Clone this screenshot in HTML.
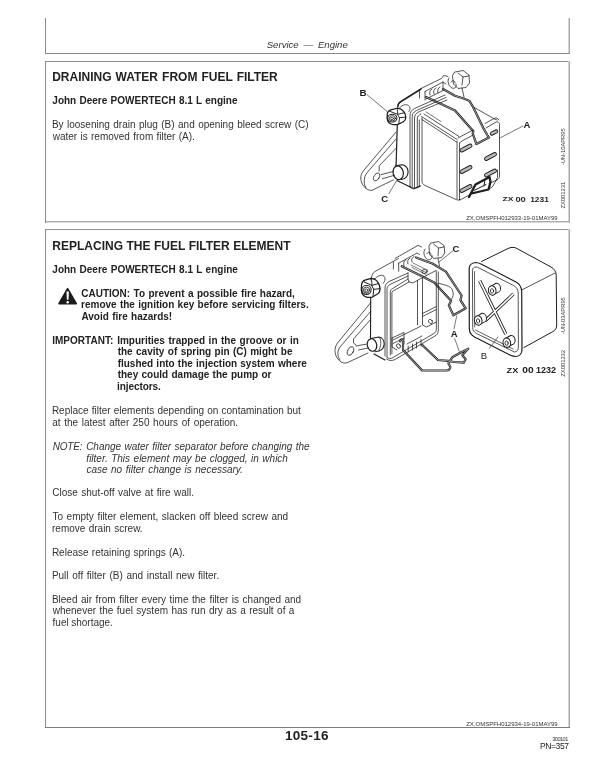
<!DOCTYPE html>
<html><head><meta charset="utf-8"><style>
html,body{margin:0;padding:0;background:#fff;}
body{width:600px;height:776px;position:relative;overflow:hidden;filter:blur(0.35px);font-family:"Liberation Sans",sans-serif;}
.t{position:absolute;white-space:nowrap;}
.b{display:inline-block;width:0;height:0;vertical-align:baseline;}
.h{position:absolute;background:#6a6a6a;}
svg{position:absolute;left:0;top:0;}
</style></head><body>
<div class="h" style="left:45px;top:18px;width:1px;height:36px;background:#8a8a8a"></div>
<div class="h" style="left:568px;top:18px;width:1px;height:36px;background:#d4d4d4"></div>
<div class="h" style="left:569px;top:18px;width:1px;height:36px;background:#a8a8a8"></div>
<div class="h" style="left:45px;top:53px;width:525px;height:1px;background:#8a8a8a"></div>
<div class="h" style="left:46px;top:61px;width:523px;height:1px;background:#8e8e8e"></div>
<div class="h" style="left:45px;top:61px;width:1px;height:162px;background:#8a8a8a"></div>
<div class="h" style="left:568px;top:61px;width:1px;height:162px;background:#d4d4d4"></div>
<div class="h" style="left:569px;top:61px;width:1px;height:162px;background:#a8a8a8"></div>
<div class="h" style="left:46px;top:221px;width:523px;height:1px;background:#acacac"></div>
<div class="h" style="left:46px;top:222px;width:523px;height:1px;background:#dadada"></div>
<div class="h" style="left:46px;top:229px;width:523px;height:1px;background:#929292"></div>
<div class="h" style="left:45px;top:229px;width:1px;height:499px;background:#8a8a8a"></div>
<div class="h" style="left:568px;top:229px;width:1px;height:499px;background:#d4d4d4"></div>
<div class="h" style="left:569px;top:229px;width:1px;height:499px;background:#a8a8a8"></div>
<div class="h" style="left:45px;top:727px;width:525px;height:1px;background:#7c7c7c"></div>
<div class="t" style="left:266.73px;top:40.12px;font-size:9.60px;line-height:9.60px;font-style:italic;word-spacing:2.14px;color:#333">Service — Engine<span class="b"></span></div>
<div class="t" style="left:52.21px;top:71.10px;font-size:12.00px;line-height:12.00px;font-weight:bold;word-spacing:0.72px;color:#222">DRAINING WATER FROM FUEL FILTER<span class="b"></span></div>
<div class="t" style="left:52.35px;top:96.11px;font-size:10.00px;line-height:10.00px;font-weight:bold;word-spacing:0.51px;color:#222">John Deere POWERTECH 8.1 L engine<span class="b"></span></div>
<div class="t" style="left:51.88px;top:120.11px;font-size:10.00px;line-height:10.00px;word-spacing:0.66px;color:#333">By loosening drain plug (B) and opening bleed screw (C)<span class="b"></span></div>
<div class="t" style="left:52.70px;top:132.12px;font-size:10.00px;line-height:10.00px;word-spacing:0.54px;color:#333">water is removed from filter (A).<span class="b"></span></div>
<div class="t" style="left:52.31px;top:240.11px;font-size:12.00px;line-height:12.00px;font-weight:bold;word-spacing:0.19px;color:#222">REPLACING THE FUEL FILTER ELEMENT<span class="b"></span></div>
<div class="t" style="left:52.35px;top:265.12px;font-size:10.00px;line-height:10.00px;font-weight:bold;word-spacing:0.57px;color:#222">John Deere POWERTECH 8.1 L engine<span class="b"></span></div>
<div class="t" style="left:81.29px;top:289.11px;font-size:10.00px;line-height:10.00px;font-weight:bold;word-spacing:0.62px;color:#222">CAUTION: To prevent a possible fire hazard,<span class="b"></span></div>
<div class="t" style="left:81.05px;top:300.11px;font-size:10.00px;line-height:10.00px;font-weight:bold;word-spacing:0.52px;color:#222">remove the ignition key before servicing filters.<span class="b"></span></div>
<div class="t" style="left:81.46px;top:312.12px;font-size:10.00px;line-height:10.00px;font-weight:bold;word-spacing:0.52px;color:#222">Avoid fire hazards!<span class="b"></span></div>
<div class="t" style="left:52.14px;top:336.11px;font-size:10.00px;line-height:10.00px;font-weight:bold;letter-spacing:0.033px;color:#222">IMPORTANT:<span class="b"></span></div>
<div class="t" style="left:117.14px;top:336.11px;font-size:10.00px;line-height:10.00px;font-weight:bold;word-spacing:0.74px;color:#222">Impurities trapped in the groove or in<span class="b"></span></div>
<div class="t" style="left:117.68px;top:347.11px;font-size:10.00px;line-height:10.00px;font-weight:bold;word-spacing:0.61px;color:#222">the cavity of spring pin (C) might be<span class="b"></span></div>
<div class="t" style="left:117.63px;top:359.12px;font-size:10.00px;line-height:10.00px;font-weight:bold;word-spacing:0.39px;color:#222">flushed into the injection system where<span class="b"></span></div>
<div class="t" style="left:117.68px;top:370.12px;font-size:10.00px;line-height:10.00px;font-weight:bold;word-spacing:0.53px;color:#222">they could damage the pump or<span class="b"></span></div>
<div class="t" style="left:117.11px;top:382.11px;font-size:10.00px;line-height:10.00px;font-weight:bold;letter-spacing:-0.098px;color:#222">injectors.<span class="b"></span></div>
<div class="t" style="left:51.88px;top:406.11px;font-size:10.00px;line-height:10.00px;word-spacing:0.36px;color:#333">Replace filter elements depending on contamination but<span class="b"></span></div>
<div class="t" style="left:52.28px;top:418.11px;font-size:10.00px;line-height:10.00px;word-spacing:0.82px;color:#333">at the latest after 250 hours of operation.<span class="b"></span></div>
<div class="t" style="left:52.70px;top:442.11px;font-size:10.00px;line-height:10.00px;font-style:italic;letter-spacing:-0.215px;color:#333">NOTE:<span class="b"></span></div>
<div class="t" style="left:86.15px;top:442.11px;font-size:10.00px;line-height:10.00px;font-style:italic;word-spacing:0.55px;color:#333">Change water filter separator before changing the<span class="b"></span></div>
<div class="t" style="left:86.37px;top:454.12px;font-size:10.00px;line-height:10.00px;font-style:italic;word-spacing:0.74px;color:#333">filter. This element may be clogged, in which<span class="b"></span></div>
<div class="t" style="left:86.38px;top:465.12px;font-size:10.00px;line-height:10.00px;font-style:italic;word-spacing:0.77px;color:#333">case no filter change is necessary.<span class="b"></span></div>
<div class="t" style="left:52.20px;top:488.11px;font-size:10.00px;line-height:10.00px;word-spacing:0.74px;color:#333">Close shut-off valve at fire wall.<span class="b"></span></div>
<div class="t" style="left:52.48px;top:512.11px;font-size:10.00px;line-height:10.00px;word-spacing:0.79px;color:#333">To empty filter element, slacken off bleed screw and<span class="b"></span></div>
<div class="t" style="left:52.04px;top:524.11px;font-size:10.00px;line-height:10.00px;word-spacing:0.54px;color:#333">remove drain screw.<span class="b"></span></div>
<div class="t" style="left:51.88px;top:548.11px;font-size:10.00px;line-height:10.00px;word-spacing:0.50px;color:#333">Release retaining springs (A).<span class="b"></span></div>
<div class="t" style="left:51.88px;top:571.12px;font-size:10.00px;line-height:10.00px;word-spacing:0.90px;color:#333">Pull off filter (B) and install new filter.<span class="b"></span></div>
<div class="t" style="left:51.88px;top:595.11px;font-size:10.00px;line-height:10.00px;word-spacing:0.75px;color:#333">Bleed air from filter every time the filter is changed and<span class="b"></span></div>
<div class="t" style="left:52.70px;top:606.12px;font-size:10.00px;line-height:10.00px;word-spacing:0.65px;color:#333">whenever the fuel system has run dry as a result of a<span class="b"></span></div>
<div class="t" style="left:52.56px;top:618.11px;font-size:10.00px;line-height:10.00px;word-spacing:-0.25px;color:#333">fuel shortage.<span class="b"></span></div>
<div class="t" style="left:466.21px;top:215.11px;font-size:6.00px;line-height:6.00px;letter-spacing:-0.005px;color:#333">ZX,OMSPFH012933-19-01MAY99<span class="b"></span></div>
<div class="t" style="left:466.21px;top:721.11px;font-size:6.00px;line-height:6.00px;letter-spacing:-0.005px;color:#333">ZX,OMSPFH012934-19-01MAY99<span class="b"></span></div>
<div class="t" style="left:284.96px;top:729.11px;font-size:13.50px;line-height:13.50px;font-weight:bold;letter-spacing:0.294px;color:#222">105-16<span class="b"></span></div>
<div class="t" style="left:552.29px;top:737.10px;font-size:5.60px;line-height:5.60px;letter-spacing:-0.541px;color:#3a3a3a">300101<span class="b"></span></div>
<div class="t" style="left:539.90px;top:742.12px;font-size:8.50px;line-height:8.50px;letter-spacing:-0.365px;color:#222">PN=357<span class="b"></span></div>
<svg width="600" height="776" viewBox="0 0 600 776">
<path d="M67.6,288.6 L76.3,303.6 L59,303.6 Z" fill="#1c1c1c" stroke="#1c1c1c" stroke-width="1.6" stroke-linejoin="round"/>
<path d="M66.5,291.5 L68.9,291.5 L68.5,299.8 L66.9,299.8 Z" fill="#fff"/>
<circle cx="67.7" cy="302.2" r="1.2" fill="#fff"/>
<g fill="none" stroke="#1e1e1e" stroke-width="0.75" stroke-linecap="round" stroke-linejoin="round">
<!-- bracket top edge (thick) -->
<path d="M397.7,107 C398,104 399,102.5 401,101.5 L421,89" stroke-width="1.5"/>
<!-- I mark -->
<path d="M419.5,89.5 L419.5,98"/>
<!-- top block -->
<path d="M421,88.5 L441.5,78.5 L443.5,75.5 L448,76.5"/>
<path d="M425,91.5 L443,82 L446,84"/>
<path d="M425,91.5 L425,100"/>
<path d="M443,82 L443,90"/>
<path d="M430,95 C429,92 430,90 432,89 M434,94 C433,91 434,89 436,88 M438,93 C437,90 438,88 440,87"/>
<path d="M426,99 L444,90"/>
<!-- top nut -->
<path d="M455,72 L463,70.5 L469,75 L469.5,83 L466,87.5 L458,88.5 L453.5,84 L452.5,76 Z"/>
<path d="M458,73 L463,77 L469,76 M463,77 L462,85"/>
<path d="M449,78 C447,80 448,86 452,88 C455,89 457,87 456,84"/>
<path d="M451,82 C452,80 455,80 455,83"/>
<path d="M462,88 L464,97"/>
<!-- wires -->
<path d="M443,89 L455,95.7 L463.5,98.5 L469.2,100.7 L472.7,106.3 L483.4,128.3 L488.3,136.8 L489,137.6 L476.3,143.9 L472.7,133.3 L473.4,131.2 L455,110.6 L440,103.5 L426,97" stroke-width="2.2"/>
<path d="M443,89 L455,95.7 L463.5,98.5 L469.2,100.7 L472.7,106.3 L483.4,128.3 L488.3,136.8 L489,137.6 L476.3,143.9 L472.7,133.3 L473.4,131.2 L455,110.6 L440,103.5 L426,97" stroke-width="0.55" stroke="#fff"/>
<path d="M474.1,107.4 L494.7,119.1 L497,120"/>
<!-- frame lines vertical -->
<path d="M410,186 L410,116 C410,112 411.5,110 414.5,108.5 L445,95"/>
<path d="M412.2,187 L412.2,117 C412.2,114 413.5,112 416.5,110.5 L446,97.5"/>
<path d="M414.5,188 L414.5,118 C414.5,115 416,113.5 418.5,112 L447,100"/>
<path d="M417.3,187 L417.3,119 C417.3,116.5 418.5,115 421,114"/>
<path d="M419.3,186 L419.3,120"/>
<path d="M410,186 C410.5,188 412,189 414,189 L420,186.5"/>
<!-- bowl front face -->
<path d="M422,118 L422,181 C422,183 423,184.5 425,185.5 L455,199 C457,200 458,200.5 460,199.5"/>
<path d="M421.5,116.5 L457,139.5"/>
<path d="M422,119.5 L456.5,142"/>
<path d="M424,114 L459,136.5"/>
<path d="M426,112 L441,121.5" stroke-width="0.6"/>
<path d="M457,141 L457,199"/>
<path d="M459.5,143 L459.5,200"/>
<!-- right face -->
<path d="M459.5,143 L462,141 L473,135 M486,128 L496,122 C498,121.5 499.5,122.5 499.5,124.5 L499.5,176 C499.5,178 498.5,179 497,180"/>
<path d="M458,138 L473,130 M485,123.5 L494,118.5 C496,117.5 498,118 499,120"/>
<path d="M460,200 L472,193.5"/>
<path d="M489,183.5 L497,180"/>
<!-- slots -->
<g stroke-width="0.9" fill="#b8b8b8">
<rect x="-6.5" y="-1.8" width="13" height="3.6" rx="1.8" transform="translate(466,148) rotate(-27)"/>
<rect x="-6.5" y="-1.8" width="13" height="3.6" rx="1.8" transform="translate(490.5,156.5) rotate(-27)"/>
<rect x="-6.5" y="-1.8" width="13" height="3.6" rx="1.8" transform="translate(466,169.5) rotate(-27)"/>
<rect x="-6.5" y="-1.8" width="13" height="3.6" rx="1.8" transform="translate(490.5,173) rotate(-27)"/>
<rect x="-6.5" y="-1.8" width="13" height="3.6" rx="1.8" transform="translate(466,188.5) rotate(-27)"/>
<rect x="-4" y="-1.6" width="8" height="3.2" rx="1.6" transform="translate(494,132.5) rotate(-27)"/>
</g>
<!-- bottom clip -->
<path d="M469,197 L475.5,184.5 L489.5,177 L490.5,182 L488.5,189.5 L471.5,193.5" stroke-width="2.3"/>
<path d="M474,190.5 L486,184.5 M485,179.5 L484,186" stroke-width="1"/>
<path d="M488.5,189.5 C490,188 492,187.5 493,186 L497.5,177.5 L497.5,170"/>
<!-- nut B -->
<g transform="translate(396.4,116.4) scale(1,0.86)">
<path d="M-9.1,-1.8 C-9.1,-5.3 -7.6,-7 -5.6,-7.6 L0.4,-9.5 L3.9,-8.8 C6.9,-6.8 9.2,-2.8 9.4,0.9 C9.4,3.7 8.4,5.2 6.9,6.2 L1.4,9.5 L-3.6,9.5 C-7.1,8.7 -9.1,5.7 -9.3,1.7 Z" stroke-width="1.3"/>
<path d="M0.4,-9.3 C1.4,-6.8 1.4,-3.8 1.1,-2.3 L3.1,1.5 L2.4,8.5 M1.1,-2.3 L7.9,-4.3 M3.1,1.5 L9.4,0.9" stroke-width="1"/>
<path d="M-6.9,-6.1 L1.1,-2.5" stroke-width="1"/>
<circle cx="-4.1" cy="2" r="4.6" stroke-width="1.1"/>
<circle cx="-4.1" cy="2.2" r="3" stroke-width="0.9"/>
<circle cx="-4.3" cy="2.4" r="1.4" stroke-width="0.8"/>
</g>
<path d="M399.3,108 C401,106 403,105 405.3,104.7 C407.5,104.5 409.5,105.5 410,108 C410,110 409.5,111 408.7,111.7"/>
<!-- bracket vertical / ear -->
<path d="M397.3,124.5 L396.1,165.2" stroke-width="1.2"/>
<path d="M396.1,132 L364,170 C361.5,173 360.5,176 360.8,179 C361.2,183 363,186 366,188.5 C368,190 370,190.6 372,190.3 L393.5,179.8"/>
<path d="M396.1,139 L367.5,172.2 C365,175 364,178 364.3,183.3 C364.6,185 365.2,186.8 366,188"/>
<path d="M396.1,148.3 L379.2,165.8 L379.2,171"/>
<ellipse cx="376.6" cy="176.9" rx="2.6" ry="4.3" transform="rotate(30 376.6 176.9)"/>
<path d="M381.3,174.5 L393.5,171.5 M382.4,178.7 L394.7,175.2"/>
<!-- screw C -->
<ellipse cx="398.2" cy="172.8" rx="5.1" ry="6.9" transform="rotate(-12 398.2 172.8)" stroke-width="1.2"/>
<path d="M395.3,165.8 L401.7,164.7 C405.5,164.8 408,168 408.1,171.7 C408,175 406.5,177.5 404,178.7 L401,179.5" stroke-width="1.1"/>
<path d="M397,180.4 L412.2,188 L415.7,188 L420.3,185.7" stroke-width="1.1"/>
<!-- leaders -->
<path d="M367,94.7 L387,111.3" stroke-width="0.6"/>
<path d="M396.4,181 L388.8,193.8" stroke-width="0.6"/>
<path d="M500,138 L523,126" stroke-width="0.6"/>
</g>
<g font-family="Liberation Sans" font-weight="bold" fill="#222">
<text x="359.5" y="96" font-size="9.8">B</text>
<text x="381.2" y="202.2" font-size="9.5">C</text>
<text x="523.5" y="128.1" font-size="9.5">A</text>
<text x="502.4" y="200.6" font-size="6.2" textLength="11" lengthAdjust="spacingAndGlyphs">ZX</text><text x="515.4" y="201.5" font-size="8" textLength="10.4" lengthAdjust="spacingAndGlyphs">00</text><text x="530.2" y="201.6" font-size="8" textLength="18.6" lengthAdjust="spacingAndGlyphs">1231</text>
</g>
<g font-family="Liberation Sans" fill="#333" font-size="5.8">
<text transform="translate(565.3,165.3) rotate(-90)">-UN-10APR95</text>
<text transform="translate(565.3,208.6) rotate(-90)">ZX001231</text>
</g>
<g fill="none" stroke="#1e1e1e" stroke-width="0.75" stroke-linecap="round" stroke-linejoin="round">
<!-- nut (left) -->
<g transform="translate(370.6,287.8)">
<path d="M-9.1,-1.8 C-9.1,-5.3 -7.6,-7 -5.6,-7.6 L0.4,-9.5 L3.9,-8.8 C6.9,-6.8 9.2,-2.8 9.4,0.9 C9.4,3.7 8.4,5.2 6.9,6.2 L1.4,9.5 L-3.6,9.5 C-7.1,8.7 -9.1,5.7 -9.3,1.7 Z" stroke-width="1.3"/>
<path d="M0.4,-9.3 C1.4,-6.8 1.4,-3.8 1.1,-2.3 L3.1,1.5 L2.4,8.5 M1.1,-2.3 L7.9,-4.3 M3.1,1.5 L9.4,0.9" stroke-width="1"/>
<path d="M-6.9,-6.1 L1.1,-2.5" stroke-width="1"/>
<circle cx="-4.1" cy="2" r="4.6" stroke-width="1.1"/>
<circle cx="-4.1" cy="2.2" r="3" stroke-width="0.9"/>
<circle cx="-4.3" cy="2.4" r="1.4" stroke-width="0.8"/>
</g>
<path d="M374,279.5 C376,277 379,275.5 381.5,275.3 C383.5,275.3 385,276.5 385,279 C385,281 384.2,282.5 383,283.3"/>
<!-- bracket top edge -->
<path d="M371,280 C371.5,276 372.5,273 375,271.5 L398.5,258.5"/>
<path d="M393.4,262 L393.4,269"/>
<!-- block -->
<path d="M395,258.5 L416,246.5 L418,245.3 L421.5,247"/>
<path d="M398.7,263.2 L417,253 L419.5,254.5"/>
<path d="M398.7,263.2 L398.7,271.3"/>
<path d="M404,266 C403,263 404,260.5 406,259.5 M408,264 C407,261 408,259 410,258 M412,262 C411,259.5 412,257.5 414,256.5"/>
<!-- top nut right -->
<path d="M431,243 L438.5,241.5 L444,245.5 L444.8,253 L441.5,257.5 L434,258.5 L429.5,254.5 L429,246.5 Z"/>
<path d="M433.5,244 L438.5,248 L444,247 M438.5,248 L438,256"/>
<path d="M425,249 C423,251 423.5,257 427.5,259.5 C430.5,260.5 432.5,258.5 432,255.5"/>
<path d="M427,253.5 C428,251.5 431,251.5 431,254.5"/>
<path d="M438,258.5 L439.5,266"/>
<!-- wires upper -->
<path id="w2a" d="M416,257.5 L432.3,263.5 L445.9,271.6 L461.6,295.5 L460.4,300.2 L465.7,308.3 L453.4,315.3 L448.8,305.4 L451.1,300.8 L434.2,282.4 L421.5,276.1 L401.7,266.2" stroke-width="2.2"/>
<path d="M416,257.5 L432.3,263.5 L445.9,271.6 L461.6,295.5 L460.4,300.2 L465.7,308.3 L453.4,315.3 L448.8,305.4 L451.1,300.8 L434.2,282.4 L421.5,276.1 L401.7,266.2" stroke-width="0.55" stroke="#fff"/>
<path d="M437.8,283.3 C444,284.5 451,286 452.5,290 C454,294 453,297 451.7,299"/>
<!-- block plate between wires -->
<path d="M411,265 L427,273 M412,267.5 L426,274.5 M413,263 L428,270.5" stroke-width="0.6"/>
<ellipse cx="424.5" cy="271.5" rx="2.6" ry="2" />
<!-- head frame -->
<path d="M385,356 L385,288 C385,285 386.5,283 389,281.5 L408,273"/>
<path d="M387,357 L387,289 C387,286.5 388.5,285 391,284 L408,276"/>
<path d="M390.3,355 L390.3,292 C390.3,290 391.5,289 393.5,288 L408,279"/>
<path d="M391.9,354 L391.9,293 C391.9,291.5 393,290.5 395,290 L409,282"/>
<path d="M408,273 L408,279 L409,282 L413,283 L418,280 L436,270.5"/>
<path d="M417.5,280.5 L417.5,325"/>
<path d="M422.5,278 L422.5,313.5"/>
<path d="M436.3,271 L436.3,329 C436.3,331 435.5,332.5 434,333.5 L393,357.5 C391,358.8 389,359 387,357.5"/>
<path d="M438.3,272 L438.3,330 C438.3,333 437,335 435,336 L395,359.5 C392,361 389,361 386.5,359"/>
<path d="M393,340 L421.2,326"/>
<path d="M393,343.5 L404,338"/>
<!-- bottom block center -->
<path d="M422.5,313.5 L436.3,306.5 M422.5,313.5 L422.5,325 L426.5,327 L436.3,322 M422.5,316.5 L436.3,309.5"/>
<ellipse cx="430.5" cy="321.5" rx="1.8" ry="2.3" transform="rotate(-30 430.5 321.5)"/>
<!-- bottom-left block with pin -->
<path d="M392,338 L404,332.5 L404,344 M392,338 L392,347 L397,349.8"/>
<ellipse cx="398.5" cy="346" rx="1.8" ry="2.4" transform="rotate(-30 398.5 346)"/>
<path d="M408.2,346 L408.2,352 M412.5,344 L412.5,350 M416.5,342 L416.5,348 M421,339.5 L421,346"/>
<path d="M407,344 L422,336"/>
<!-- lower wire -->
<path d="M400,341.5 C400.5,339 402.5,338.5 403,341 L403,350 L422.2,370.5 L446.3,370.5 C449,370.5 450.5,368.5 450.3,366.7 L448.3,363.3 L452.3,357.3 L460.3,352.7 L468.3,348.7 L466.3,350.7 L462.3,355.3 L465.7,359.3 L463.7,362.7 L454.3,362 L448,360.8 L438,360 L422.2,345" stroke-width="2.2"/>
<path d="M400,341.5 C400.5,339 402.5,338.5 403,341 L403,350 L422.2,370.5 L446.3,370.5 C449,370.5 450.5,368.5 450.3,366.7 L448.3,363.3 L452.3,357.3 L460.3,352.7 L468.3,348.7 L466.3,350.7 L462.3,355.3 L465.7,359.3 L463.7,362.7 L454.3,362 L448,360.8 L438,360 L422.2,345" stroke-width="0.55" stroke="#fff"/>
<!-- bracket ear -->
<path d="M370.7,297.5 L370.5,338.5" stroke-width="1.1"/>
<path d="M370.7,302.7 L337.5,343 C335,346.5 334.8,350 335,352 C335.5,356 337.5,359.5 341,362 C343,363 345,363.2 347,362.8 L368,353"/>
<path d="M370.7,311.3 L340,347 C338,349.5 337.5,353 338,355 C338.5,357.5 339.3,359 340,360"/>
<path d="M370.7,319.3 L353.5,339 L353.5,343 L356,345"/>
<ellipse cx="350.5" cy="351" rx="2.8" ry="4.6" transform="rotate(25 350.5 351)"/>
<path d="M356,346 L367,344 M358.5,350 L368,348"/>
<!-- screw C -->
<ellipse cx="372" cy="345" rx="4.7" ry="6.3" transform="rotate(-12 372 345)" stroke-width="1.2"/>
<path d="M370.5,338.5 L379,337 C382,337.5 384.2,340.5 384.2,344 C384,347.5 382,350 379,351 L375,351.8" stroke-width="1.1"/>
<path d="M379.5,337.5 C381.5,340 381.5,347 378.5,350.5"/>
<path d="M374,354 L385,360" stroke-width="1.1"/>
<!-- filter bowl B (opened) -->
<path d="M469.2,268 C469.5,265 472,263 475.5,262.5 C477.5,262.5 479,263 481,264 L516,282 C519.5,284 521.5,287.5 521.7,291 L522,349 C522,353 520,356.5 516,356.5 C514,356.5 512,356 510,355 L474.5,337 C471,335 469.5,333 469.3,329 Z" stroke-width="1.2"/>
<path d="M472.5,270 C472.7,268 474,267 476,267 C477,267 478,267.5 479,268 L513.5,285.5 C516.5,287 518,289.5 518.2,293 L518.4,347 C518.4,350 517,352 514.5,352 L476.5,333.5 C474,332 472.8,330.5 472.7,328 Z"/>
<path d="M474.5,271.5 L474.7,327 M475.5,330 L513,349" stroke-width="0.7"/>
<path d="M481.5,261.5 L508,248.5 C510.5,247.3 513.5,247 516,248 L551,267 C554,268.5 556,271.5 556.2,275 L556.7,325 C556.7,328 555.5,330 553,331.5 L524,347.5" stroke-width="1"/>
<path d="M521.7,290 L555,273"/>
<!-- X bars -->
<path d="M479.7,280.8 L505.8,334 M513.5,293.9 L485,321" stroke-width="3.3" stroke-linecap="butt"/>
<path d="M479.7,280.8 L505.8,334 M513.5,293.9 L485,321" stroke-width="1.7" stroke="#fff" stroke-linecap="butt"/>
<g transform="translate(492.2,290.5) rotate(-8)"><path d="M0,-4.7 L4.8,-6.6 A3.8,4.7 0 0 1 4.8,2.8 L0,4.7" fill="#fff" stroke-width="1"/><ellipse cx="0" cy="0" rx="3.8" ry="4.7" fill="#fff" stroke-width="1.05"/><ellipse cx="-0.2" cy="0.4" rx="1.6" ry="2.2" stroke-width="0.8"/></g>
<g transform="translate(478.2,320.5) rotate(-8)"><path d="M0,-4.7 L4.8,-6.6 A3.8,4.7 0 0 1 4.8,2.8 L0,4.7" fill="#fff" stroke-width="1"/><ellipse cx="0" cy="0" rx="3.8" ry="4.7" fill="#fff" stroke-width="1.05"/><ellipse cx="-0.2" cy="0.4" rx="1.6" ry="2.2" stroke-width="0.8"/></g>
<g transform="translate(506.8,342.7) rotate(-8)"><path d="M0,-4.7 L4.8,-6.6 A3.8,4.7 0 0 1 4.8,2.8 L0,4.7" fill="#fff" stroke-width="1"/><ellipse cx="0" cy="0" rx="3.8" ry="4.7" fill="#fff" stroke-width="1.05"/><ellipse cx="-0.2" cy="0.4" rx="1.6" ry="2.2" stroke-width="0.8"/></g>
<!-- leaders -->
<path d="M452.7,251 L438.7,262.3" stroke-width="0.6"/>
<path d="M454,328.7 L456.7,316" stroke-width="0.6"/>
<path d="M454.7,338.7 L459.3,351.3" stroke-width="0.6"/>
<path d="M489.3,348.5 L498,336.9" stroke-width="0.6"/>
</g>
<g font-family="Liberation Sans" font-weight="bold" fill="#222">
<text x="452.6" y="251.8" font-size="9.5">C</text>
<text x="450.8" y="336.8" font-size="9.5">A</text>
<text x="480.7" y="359" font-size="9.5" font-weight="normal">B</text>
<text x="506.6" y="372.9" font-size="7" textLength="11.6" lengthAdjust="spacingAndGlyphs">ZX</text>
<text x="522.2" y="373.3" font-size="8.4" textLength="11.4" lengthAdjust="spacingAndGlyphs">00</text>
<text x="536" y="373.3" font-size="8.4" textLength="20" lengthAdjust="spacingAndGlyphs">1232</text>
</g>
<g font-family="Liberation Sans" fill="#333" font-size="5.8">
<text transform="translate(565,334.2) rotate(-90)">-UN-03APR95</text>
<text transform="translate(565,376.7) rotate(-90)">ZX001232</text>
</g>

</svg>
</body></html>
